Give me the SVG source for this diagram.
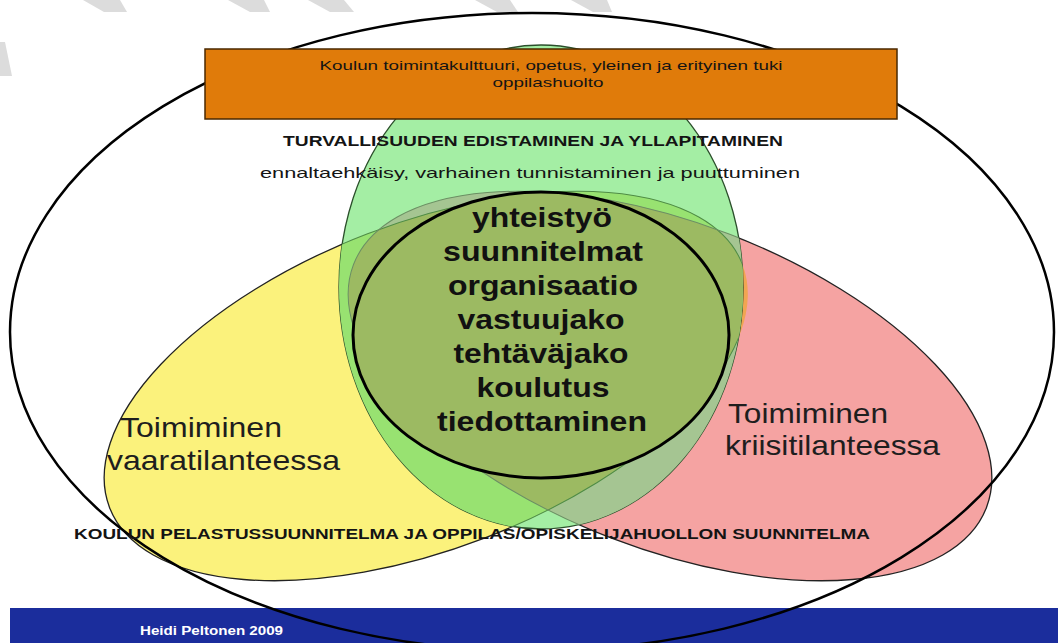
<svg xmlns="http://www.w3.org/2000/svg" width="1058" height="643" viewBox="0 0 1058 643">
<style>
.t{font-family:"Liberation Sans",Arial,sans-serif;fill:#141414}
.b{font-weight:bold}
.core{font-family:"Liberation Sans",Arial,sans-serif;font-weight:bold;font-size:28px;fill:#111;text-anchor:middle}
.side{font-family:"Liberation Sans",Arial,sans-serif;font-size:28px;fill:#1e1e1e}
.stripe{fill:#dcdcdc}
</style>
<defs>
<ellipse id="eg" cx="541" cy="287" rx="202" ry="242"/>
<ellipse id="ey" cx="426" cy="386" rx="339" ry="163" transform="rotate(-21 426 386)"/>
<ellipse id="ep" cx="670" cy="386" rx="339" ry="163" transform="rotate(21 670 386)"/>
<clipPath id="cg"><use href="#eg"/></clipPath>
<clipPath id="cy"><use href="#ey"/></clipPath>
<clipPath id="cp"><use href="#ep"/></clipPath>
</defs>
<rect width="1058" height="643" fill="#fff"/>
<g id="watermark">
<polygon class="stripe" points="83,0 120,0 127,12 104,12"/>
<polygon class="stripe" points="228,0 264,0 270,12 250,12"/>
<polygon class="stripe" points="308,0 344,0 354,12 330,12"/>
<polygon class="stripe" points="475,0 510,0 518,12 497,12"/>
<polygon class="stripe" points="571,0 607,0 612,12 593,12"/>
<polygon class="stripe" points="0,42 5,42 12,76 0,76"/>
</g>
<g id="set-yellow">
<use href="#ey" fill="#fbf27c" stroke="#222" stroke-width="1.3"/>
</g>
<g id="set-pink">
<use href="#ep" fill="#f5a3a2" stroke="#222" stroke-width="1.3"/>
<g clip-path="url(#cy)"><use href="#ep" fill="#f1a552"/></g>
</g>
<g id="set-green">
<use href="#eg" fill="#a4eea4" stroke="#2b4f2b" stroke-width="1.3"/>
<g clip-path="url(#cg)">
<use href="#ey" fill="#98e271"/>
<use href="#ep" fill="#a5c592"/>
<g clip-path="url(#cy)"><use href="#ep" fill="#9cba62"/></g>
<use href="#ey" fill="none" stroke="#4f8c45" stroke-width="1"/>
<use href="#ep" fill="none" stroke="#6b8f63" stroke-width="1"/>
</g>
</g>
<g id="core">
<ellipse cx="541" cy="335" rx="188" ry="143" fill="#9cba62" stroke="#000" stroke-width="3"/>
<text class="core" x="542" y="227" textLength="140" lengthAdjust="spacingAndGlyphs">yhteistyö</text>
<text class="core" x="543" y="261" textLength="200" lengthAdjust="spacingAndGlyphs">suunnitelmat</text>
<text class="core" x="543" y="295" textLength="190" lengthAdjust="spacingAndGlyphs">organisaatio</text>
<text class="core" x="541" y="329" textLength="167" lengthAdjust="spacingAndGlyphs">vastuujako</text>
<text class="core" x="541" y="363" textLength="175" lengthAdjust="spacingAndGlyphs">tehtäväjako</text>
<text class="core" x="543" y="397" textLength="133" lengthAdjust="spacingAndGlyphs">koulutus</text>
<text class="core" x="542" y="431" textLength="210" lengthAdjust="spacingAndGlyphs">tiedottaminen</text>
</g>
<g id="footer">
<rect x="10" y="608" width="1048" height="35" fill="#1b2d9c"/>
<text class="b" x="140" y="635" font-family="Liberation Sans, Arial, sans-serif" font-size="12" fill="#fff" textLength="143" lengthAdjust="spacingAndGlyphs">Heidi Peltonen 2009</text>
</g>
<g id="outer">
<ellipse cx="532" cy="332" rx="522" ry="319" fill="none" stroke="#000" stroke-width="2.5"/>
</g>
<g id="header-box">
<rect x="205" y="49" width="692" height="70" fill="#e07b0a" stroke="#4a2800" stroke-width="1.5"/>
<text class="t" x="551" y="70" font-size="13" text-anchor="middle" textLength="463" lengthAdjust="spacingAndGlyphs">Koulun toimintakulttuuri, opetus, yleinen ja erityinen tuki</text>
<text class="t" x="548" y="87" font-size="13" text-anchor="middle" textLength="111" lengthAdjust="spacingAndGlyphs">oppilashuolto</text>
</g>
<g id="labels">
<text class="t b" x="533" y="146" font-size="14" text-anchor="middle" textLength="500" lengthAdjust="spacingAndGlyphs">TURVALLISUUDEN EDISTAMINEN JA YLLAPITAMINEN</text>
<text class="t" x="530" y="178" font-size="15" text-anchor="middle" textLength="540" lengthAdjust="spacingAndGlyphs">ennaltaehkäisy, varhainen tunnistaminen ja puuttuminen</text>
<text class="t b" x="472" y="539" font-size="14" text-anchor="middle" textLength="796" lengthAdjust="spacingAndGlyphs">KOULUN PELASTUSSUUNNITELMA JA OPPILAS/OPISKELIJAHUOLLON SUUNNITELMA</text>
<text class="side" x="120" y="437" textLength="162" lengthAdjust="spacingAndGlyphs">Toimiminen</text>
<text class="side" x="107" y="470" textLength="233" lengthAdjust="spacingAndGlyphs">vaaratilanteessa</text>
<text class="side" x="728" y="423" textLength="160" lengthAdjust="spacingAndGlyphs">Toimiminen</text>
<text class="side" x="725" y="455" textLength="215" lengthAdjust="spacingAndGlyphs">kriisitilanteessa</text>
</g>
<g id="connectors"/>
</svg>
